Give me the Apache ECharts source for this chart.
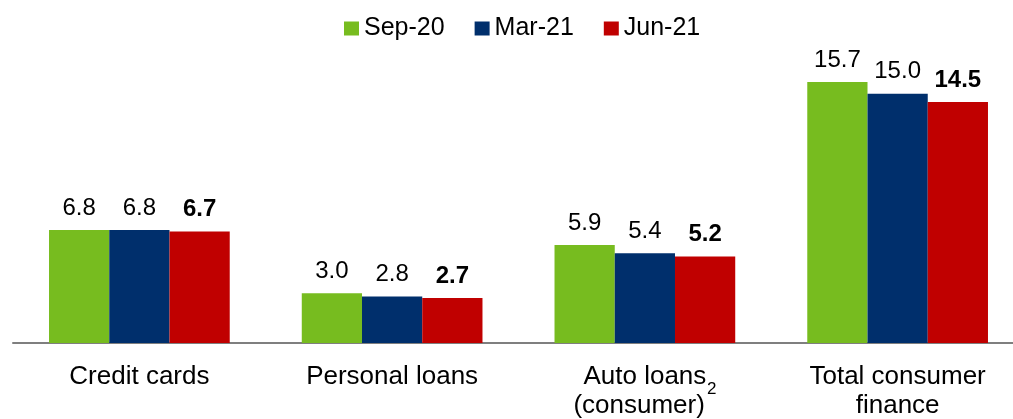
<!DOCTYPE html>
<html>
<head>
<meta charset="utf-8">
<script src="https://cdn.jsdelivr.net/npm/echarts@6/dist/echarts.min.js"></script>
<style>
  html, body { margin: 0; padding: 0; background: #fff; }
  #chart { width: 1013px; height: 419px; }
</style>
</head>
<body>
<div id="chart"></div>
<script>
const categories = [
  "Credit cards",
  "Personal loans",
  "{a|Auto loans}\n{b|(consumer)}{sup|2}",
  "Total consumer\nfinance"
];
const sep20 = [6.8, 3.0, 5.9, 15.7];
const mar21 = [6.8, 2.8, 5.4, 15.0];
const jun21 = [6.7, 2.7, 5.2, 14.5];

const font = "'Liberation Sans', Arial, sans-serif";
const chart = echarts.init(document.getElementById("chart"));

const makeSeries = (name, data, color, bold) => ({
  name: name,
  type: "bar",
  data: data,
  barGap: "0%",
  barCategoryGap: "28.5%",
  itemStyle: { color: color },
  label: {
    show: true,
    position: "top",
    distance: 10,
    color: "#000",
    fontFamily: font,
    fontSize: 24,
    fontWeight: bold ? "bold" : "normal",
    formatter: (p) => p.value.toFixed(1)
  }
});

// the superscript label needs its own padding so the "2" can sit between the lines
const axisData = categories.map((c) =>
  c.indexOf("{sup|") >= 0 ? { value: c, textStyle: { padding: [10, 0, 0, 0] } } : c
);

const option = {
  animation: false,
  legend: {
    top: 16,
    left: 344,
    padding: 0,
    itemWidth: 15,
    itemHeight: 14,
    itemGap: 30,
    icon: "rect",
    textStyle: { fontFamily: font, fontSize: 25, color: "#000" }
  },
  grid: { left: 13, width: 1011, top: 77, bottom: 76, outerBoundsMode: "none" },
  xAxis: {
    type: "category",
    data: axisData,
    axisTick: { show: false },
    axisLine: { lineStyle: { color: "#7f7f7f", width: 2 } },
    axisLabel: {
      interval: 0,
      margin: 19,
      color: "#000",
      fontFamily: font,
      fontSize: 26,
      lineHeight: 29,
      rich: {
        a: { fontSize: 26, fontFamily: font, color: "#000", lineHeight: 9 },
        b: { fontSize: 26, fontFamily: font, color: "#000", lineHeight: 49 },
        sup: { fontSize: 17, fontFamily: font, color: "#000", verticalAlign: "top", padding: [0, 0, 0, 2] }
      }
    }
  },
  yAxis: {
    type: "value",
    min: 0,
    max: 16,
    show: false,
    splitLine: { show: false }
  },
  series: [
    makeSeries("Sep-20", sep20, "#77bc1f", false),
    makeSeries("Mar-21", mar21, "#002f6c", false),
    makeSeries("Jun-21", jun21, "#c00000", true)
  ]
};

chart.setOption(option);
window.addEventListener("resize", () => chart.resize());
</script>
</body>
</html>
